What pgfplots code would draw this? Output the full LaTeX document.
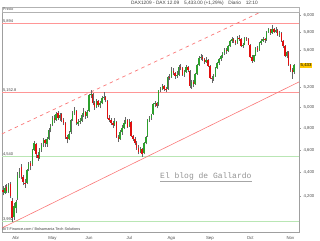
\documentclass[border=0pt]{standalone}
\usepackage{pgfplots}
\pgfplotsset{compat=1.18}
\usepackage{pgfplotstable}
\usepackage{fontspec}
\setmainfont{Liberation Sans}
\newfontfamily\monofont{Liberation Mono}
\definecolor{upg}{RGB}{45,160,45}
\definecolor{dnr}{RGB}{225,15,15}
\definecolor{lred}{RGB}{255,150,150}
\definecolor{dred}{RGB}{250,120,120}
\definecolor{lgreen}{RGB}{185,230,180}
\definecolor{pbox}{RGB}{255,200,0}

\pgfplotstableread{
i o h l c
0 4250 4280 4205 4230
1 4225 4295 4215 4270
2 4275 4300 4225 4240
3 4235 4310 4225 4290
4 4300 4315 4180 4200
5 4160 4185 3992 4020
6 4030 4140 4010 4120
7 4100 4170 4060 4150
8 4180 4400 4170 4380
9 4390 4440 4350 4400
10 4450 4470 4340 4360
11 4360 4380 4290 4320
12 4310 4340 4270 4300
13 4310 4430 4300 4420
14 4430 4490 4410 4470
15 4480 4500 4420 4460
16 4470 4610 4460 4600
17 4600 4680 4590 4660
18 4650 4660 4530 4560
19 4550 4580 4500 4530
20 4530 4620 4520 4600
21 4600 4660 4580 4640
22 4650 4710 4630 4690
23 4690 4700 4630 4660
24 4650 4720 4630 4700
25 4700 4800 4690 4780
26 4790 4840 4760 4810
27 4830 4920 4820 4900
28 4900 4930 4850 4880
29 4880 4960 4870 4940
30 4950 4970 4880 4900
31 4900 4950 4870 4930
32 4940 4950 4860 4880
33 4880 4900 4830 4850
34 4850 4860 4700 4720
35 4720 4740 4660 4700
36 4700 4770 4690 4750
37 4760 4890 4750 4880
38 4880 4970 4870 4950
39 4950 5000 4930 4980
40 4970 4980 4830 4850
41 4840 4890 4820 4860
42 4860 4900 4840 4870
43 4870 4950 4860 4930
44 4930 4990 4910 4960
45 4960 4970 4890 4920
46 4920 4980 4900 4960
47 4970 5130 4960 5120
48 5120 5175 5090 5130
49 5130 5140 5020 5040
50 5040 5060 4980 5000
51 5000 5080 4990 5060
52 5060 5070 5000 5020
53 5020 5060 4990 5040
54 5040 5110 5030 5090
55 5090 5150 5070 5100
56 5100 5110 5050 5070
57 5060 5070 4890 4900
58 4900 4930 4860 4880
59 4880 4900 4830 4850
60 4850 4870 4800 4830
61 4830 4900 4820 4870
62 4860 4870 4710 4720
63 4720 4740 4670 4700
64 4700 4780 4690 4760
65 4760 4830 4740 4800
66 4800 4880 4790 4850
67 4850 4910 4840 4880
68 4880 4890 4800 4810
69 4820 4890 4810 4860
70 4860 4870 4720 4730
71 4730 4740 4680 4700
72 4700 4720 4640 4660
73 4660 4680 4600 4620
74 4620 4640 4560 4580
75 4580 4630 4570 4610
76 4610 4620 4540 4560
77 4570 4670 4560 4660
78 4660 4730 4650 4720
79 4730 4890 4720 4880
80 4880 4920 4860 4900
81 4900 4940 4880 4930
82 4940 5040 4930 5030
83 5030 5060 5000 5040
84 5040 5050 4990 5010
85 5020 5180 5010 5170
86 5170 5210 5150 5190
87 5190 5240 5170 5220
88 5220 5230 5160 5190
89 5190 5210 5150 5180
90 5190 5320 5180 5310
91 5310 5340 5280 5300
92 5310 5420 5300 5370
93 5370 5400 5330 5350
94 5350 5360 5290 5320
95 5320 5370 5300 5330
96 5330 5440 5320 5420
97 5420 5450 5380 5400
98 5400 5410 5320 5330
99 5330 5380 5310 5360
100 5360 5440 5350 5420
101 5420 5430 5360 5380
102 5370 5380 5200 5220
103 5220 5280 5190 5260
104 5260 5280 5210 5240
105 5240 5350 5230 5340
106 5340 5450 5330 5440
107 5440 5530 5430 5510
108 5510 5560 5490 5520
109 5520 5540 5480 5500
110 5500 5510 5450 5470
111 5470 5520 5460 5490
112 5490 5500 5420 5430
113 5430 5440 5290 5300
114 5300 5320 5250 5290
115 5290 5340 5270 5320
116 5320 5410 5310 5400
117 5400 5470 5390 5460
118 5460 5510 5440 5500
119 5500 5550 5480 5530
120 5530 5580 5510 5570
121 5570 5620 5550 5600
122 5600 5620 5560 5590
123 5590 5650 5580 5640
124 5640 5710 5630 5700
125 5700 5740 5680 5720
126 5720 5730 5680 5700
127 5700 5710 5650 5680
128 5680 5760 5670 5730
129 5730 5770 5700 5720
130 5720 5730 5630 5640
131 5640 5680 5620 5660
132 5660 5740 5650 5730
133 5730 5750 5700 5720
134 5720 5730 5650 5660
135 5660 5670 5510 5520
136 5520 5540 5460 5480
137 5480 5550 5470 5540
138 5540 5630 5530 5620
139 5620 5640 5580 5600
140 5600 5690 5590 5680
141 5680 5720 5660 5700
142 5700 5740 5690 5720
143 5720 5730 5680 5710
144 5710 5810 5700 5800
145 5800 5850 5790 5830
146 5830 5840 5770 5790
147 5790 5885 5780 5830
148 5830 5850 5790 5800
149 5800 5860 5790 5820
150 5820 5830 5760 5770
151 5770 5810 5750 5790
152 5790 5800 5690 5700
153 5700 5710 5620 5640
154 5640 5650 5520 5530
155 5530 5590 5510 5580
156 5580 5590 5430 5440
157 5440 5450 5360 5380
158 5380 5400 5290 5360
159 5360 5450 5340 5433
}\candles

\begin{document}
\begin{tikzpicture}
\path[use as bounding box] (0pt,0pt) rectangle (320pt,240pt);
\begin{axis}[
  at={(2pt,8pt)}, anchor=south west, scale only axis,
  width=297pt, height=220pt,
  ymode=log, ymin=3914, ymax=6035, xmin=-0.55, xmax=161.7,
  axis line style={gray!75},
  ytick={4200,4400,4600,4800,5000,5200,5600,5800,6000},
  yticklabels={{4,200},{4,400},{4,600},{4,800},{5,000},{5,200},{5,600},{5,800},{6,000}},
  ytick pos=right, yticklabel pos=right,
  xtick={7,27,47,69,92,113,135,157},
  xticklabels={Abr,May,Jun,Jul,Ago,Sep,Oct,Nov},
  xtick pos=bottom,
  tick align=outside, major tick length=1.5pt,
  tick style={gray!80},
  minor tick num=0,
  ticklabel style={font=\fontsize{4.3}{5}\selectfont, text=black!70},
  yticklabel style={xshift=-0.5pt},
  xticklabel style={yshift=0.5pt},
]
% horizontal levels
\addplot[lred, line width=1pt, forget plot] coordinates {(-0.55,5894) (161.7,5894)};
\addplot[lred, line width=1pt, forget plot] coordinates {(-0.55,5152.8) (161.7,5152.8)};
\addplot[lgreen, line width=1pt, forget plot] coordinates {(-0.55,4540) (161.7,4540)};
\addplot[lgreen, line width=1pt, forget plot] coordinates {(-0.55,3992) (161.7,3992)};
% trend lines
\addplot[dred, line width=0.7pt, dash pattern=on 3.5pt off 3.5pt, forget plot] coordinates {(-0.55,4747) (140.4,6030)};
\addplot[dred, line width=0.6pt, forget plot] coordinates {(-0.55,3945) (161.7,5258)};
% wicks
\addplot[draw=none, mark=none, forget plot,
  error bars/.cd, y dir=plus, y explicit, error mark=none,
  error bar style={draw=black!60, line width=0.35pt}]
  table[x=i, y=l, y error plus expr=\thisrow{h}-\thisrow{l}] {\candles};
% up bodies
\addplot[draw=none, mark=none, forget plot,
  restrict expr to domain={\thisrow{c}-\thisrow{o}}{0:100000},
  error bars/.cd, y dir=plus, y explicit, error mark=none,
  error bar style={draw=upg, line width=1.45pt}]
  table[x=i, y=o, y error plus expr=\thisrow{c}-\thisrow{o}] {\candles};
% down bodies
\addplot[draw=none, mark=none, forget plot,
  restrict expr to domain={\thisrow{o}-\thisrow{c}}{0.001:100000},
  error bars/.cd, y dir=plus, y explicit, error mark=none,
  error bar style={draw=dnr, line width=1.45pt}]
  table[x=i, y=c, y error plus expr=\thisrow{o}-\thisrow{c}] {\candles};
\coordinate (L1) at (axis cs:-0.3,5894);
\coordinate (L2) at (axis cs:-0.3,5152.8);
\coordinate (L3) at (axis cs:-0.3,4540);
\coordinate (L4) at (axis cs:-0.3,3992);
\coordinate (PB) at (axis cs:161.7,5433);
\end{axis}
\begin{scope}[font=\fontsize{4}{4.5}\selectfont, text=black!75]
\node[anchor=south west, inner sep=0.4pt] at (L1) {5,894};
\node[anchor=south west, inner sep=0.4pt] at (L2) {5,152.8};
\node[anchor=south west, inner sep=0.4pt] at (L3) {4,540};
\node[anchor=south west, inner sep=0.4pt] at (L4) {3,992};
\end{scope}
\node[anchor=west, fill=pbox, inner sep=0.7pt, font=\fontsize{4.3}{5}\selectfont] at ([xshift=0.8pt]PB) {5,433};
% header
\draw[gray!60, line width=0.4pt] (2pt,228pt) rectangle (299pt,232.5pt);
\node[anchor=west, inner sep=0pt, font=\fontsize{3.6}{4}\selectfont, text=black!75] at (3pt,230.3pt) {Precio};
\node[anchor=east, inner sep=0pt, font=\fontsize{4.8}{5.5}\selectfont, text=black!75] at (258pt,236.8pt) {DAX1209 - DAX 12.09\quad 5,433.00 (+1,29\%)\quad Diario\quad 12:10};
\node[anchor=west, inner sep=0pt, font=\fontsize{3.8}{4.5}\selectfont, text=black!75] at (2.5pt,10.8pt) {BIT-Finance.com / Bolsamania Tech Solutions};
% watermark
\node[anchor=base west, inner sep=0pt, font=\monofont\fontsize{8}{9}\selectfont, text=gray!85] at (160pt,61pt) {El blog de Gallardo};
\draw[gray!70, line width=0.4pt] (160pt,58.5pt) -- (252pt,58.5pt);
\end{tikzpicture}
\end{document}
